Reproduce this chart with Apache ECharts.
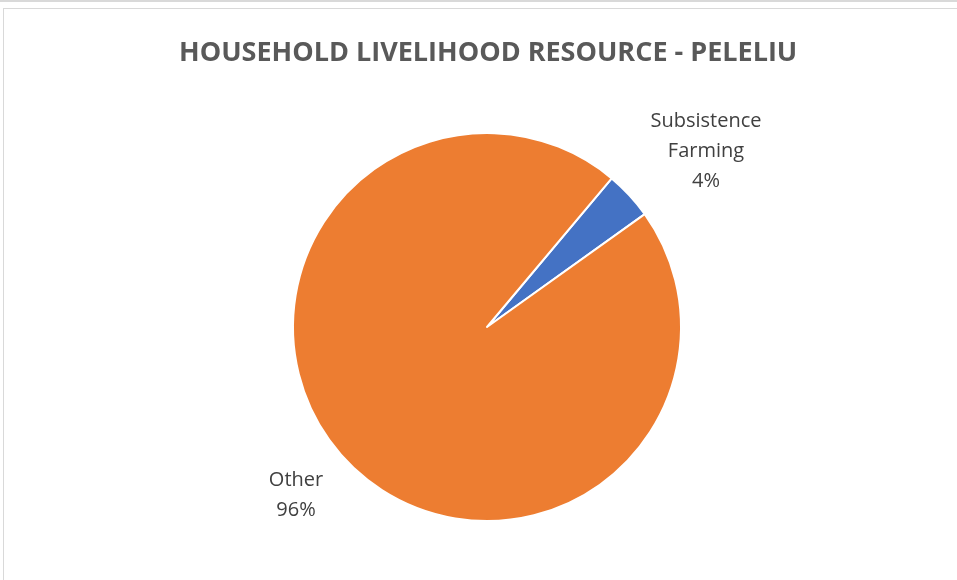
<!DOCTYPE html>
<html>
<head>
<meta charset="utf-8">
<script src="https://cdn.jsdelivr.net/npm/echarts@6/dist/echarts.min.js"></script>
<style>
  html, body { margin: 0; padding: 0; background: #fff; }
  #frame { position: absolute; left: 0; top: 0; width: 957px; height: 580px; overflow: hidden; }
  #topline { position: absolute; left: 0; top: 0; width: 957px; height: 2px; background: #d9d9d9; }
  #box { position: absolute; left: 3px; top: 8px; width: 960px; height: 580px; border: 1px solid #d9d9d9; box-sizing: border-box; }
  #chart { position: absolute; left: 0; top: 0; width: 957px; height: 580px; }
</style>
</head>
<body>
<div id="frame">
  <div id="topline"></div>
  <div id="box"></div>
  <div id="chart"></div>
</div>
<script>
// Household livelihood resource shares, Peleliu
const categories = ['Subsistence Farming', 'Other'];
const shares = [4, 96];
const colors = ['#4472C4', '#ED7D31'];
const labelText = ['Subsistence\nFarming', 'Other'];
// Label anchor points (centre of each label block)
const labelAnchors = [[706, 151], [296, 495]];

const chart = echarts.init(document.getElementById('chart'), null, { renderer: 'canvas' });

chart.setOption({
  animation: false,
  backgroundColor: 'transparent',
  title: {
    text: 'HOUSEHOLD LIVELIHOOD RESOURCE - PELELIU',
    left: 174,
    top: 35,
    textStyle: {
      fontFamily: 'Open Sans',
      fontWeight: 'bold',
      fontSize: 27,
      color: '#595959'
    }
  },
  series: [{
    type: 'pie',
    center: [487, 327],
    radius: 194,
    startAngle: 50,
    clockwise: true,
    itemStyle: { borderColor: '#fff', borderWidth: 2 },
    label: {
      show: true,
      position: 'outside',
      fontFamily: 'Open Sans',
      fontSize: 20,
      lineHeight: 30,
      color: '#404040',
      align: 'center',
      formatter: p => labelText[p.dataIndex] + '\n' + p.value + '%'
    },
    labelLine: { show: false },
    labelLayout: p => ({
      x: labelAnchors[p.dataIndex][0],
      y: labelAnchors[p.dataIndex][1],
      align: 'center',
      verticalAlign: 'middle'
    }),
    data: categories.map((c, i) => ({
      name: c,
      value: shares[i],
      itemStyle: { color: colors[i] }
    }))
  }]
});
</script>
</body>
</html>
